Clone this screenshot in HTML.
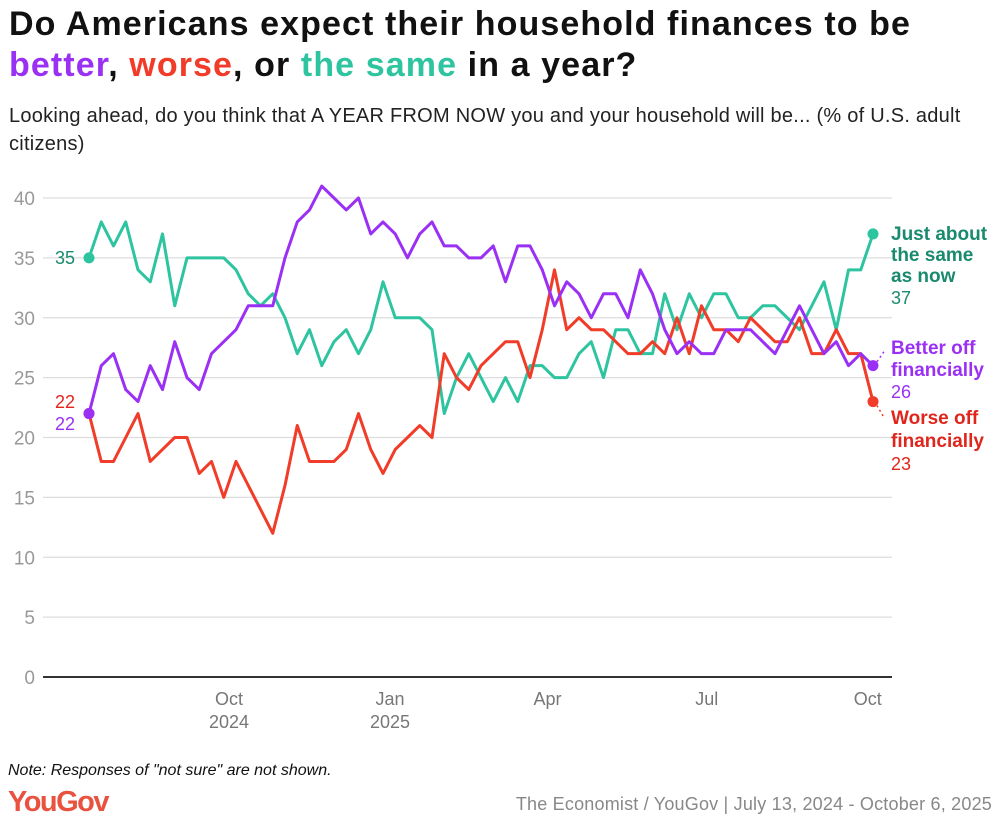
<!DOCTYPE html>
<html><head><meta charset="utf-8"><style>
body{margin:0;background:#fff;width:1000px;height:830px;overflow:hidden;font-family:"Liberation Sans",sans-serif}
.t{position:absolute;left:9px;font-weight:bold;font-size:34px;letter-spacing:1.1px;color:#111;white-space:nowrap}
.s{position:absolute;left:9px;top:102px;width:960px;font-size:20px;letter-spacing:0.25px;line-height:28px;color:#222}
</style></head><body>
<div class="t" style="top:5px">Do Americans expect their household finances to be</div>
<div class="t" style="top:46px"><span style="color:#9b30f5">better</span>, <span style="color:#f03c28">worse</span>, or <span style="color:#2ec4a0">the same</span> in a year?</div>
<div class="s">Looking ahead, do you think that A YEAR FROM NOW you and your household will be... (% of U.S. adult citizens)</div>
<svg id="c" width="1000" height="830" style="position:absolute;left:0;top:0"></svg>
<div style="position:absolute;left:8px;top:762px;font-size:16px;font-style:italic;color:#111">Note: Responses of "not sure" are not shown.</div>
<div style="position:absolute;left:8px;top:786px;font-size:29px;font-weight:bold;color:#e8523f;letter-spacing:-1.5px">YouGov</div>
<div style="position:absolute;right:8px;top:794px;font-size:18px;letter-spacing:0.2px;color:#888">The Economist / YouGov | July 13, 2024 - October 6, 2025</div>
<script>
const startDate = "2024-07-13";
const same = [35,38,36,38,34,33,37,31,35,35,35,35,34,32,31,32,30,27,29,26,28,29,27,29,33,30,30,30,29,22,25,27,25,23,25,23,26,26,25,25,27,28,25,29,29,27,27,32,29,32,30,32,32,30,30,31,31,30,29,31,33,29,34,34,37];
const better = [22,26,27,24,23,26,24,28,25,24,27,28,29,31,31,31,35,38,39,41,40,39,40,37,38,37,35,37,38,36,36,35,35,36,33,36,36,34,31,33,32,30,32,32,30,34,32,29,27,28,27,27,29,29,29,28,27,29,31,29,27,28,26,27,26];
const worse = [22,18,18,20,22,18,19,20,20,17,18,15,18,16,14,12,16,21,18,18,18,19,22,19,17,19,20,21,20,27,25,24,26,27,28,28,25,29,34,29,30,29,29,28,27,27,28,27,30,27,31,29,29,28,30,29,28,28,30,27,27,29,27,27,23];
const yTicks = [0,5,10,15,20,25,30,35,40];
const xTickDates = ["2024-10-01","2025-01-01","2025-04-01","2025-07-01","2025-10-01"];
const xTickLabels = ["Oct","Jan","Apr","Jul","Oct"];
const xTickYears = ["2024","2025","","",""];

const NS="http://www.w3.org/2000/svg", svg=document.getElementById('c');
const t0=Date.parse(startDate);
const xIdx=i=>89+i*12.25;
const xDate=d=>89+(Date.parse(d)-t0)/864e5/7*12.25;
const y=v=>677-v*11.975;
function mk(tag,a,txt){const e=document.createElementNS(NS,tag);for(const k in a)e.setAttribute(k,a[k]);if(txt!=null)e.textContent=txt;svg.appendChild(e);return e;}
yTicks.forEach(v=>{
  const g=mk('line',{x1:43,x2:892,y1:y(v),y2:y(v),stroke:v===0?'#333':'#ddd','stroke-width':v===0?2:1.2});
  
  
  const t=mk('text',{x:35,y:y(v)+7,'text-anchor':'end','font-size':19,fill:'#999','font-family':'Liberation Sans'},v);
  
  
});
xTickDates.forEach((d,i)=>{
  const t=mk('text',{x:xDate(d),y:705,'text-anchor':'middle','font-size':18,fill:'#777','font-family':'Liberation Sans'},xTickLabels[i]);
  
  
  if(xTickYears[i]){const u=mk('text',{x:xDate(d),y:728,'text-anchor':'middle','font-size':18,fill:'#777','font-family':'Liberation Sans'},xTickYears[i]);
  
  }
});
function series(arr,col,name){
  const p=mk('polyline',{points:arr.map((v,i)=>xIdx(i)+','+y(v)).join(' '),fill:'none',stroke:col,'stroke-width':3,'stroke-linejoin':'round'});
  
  
  const a=mk('circle',{cx:xIdx(0),cy:y(arr[0]),r:5.5,fill:col});
  
  
  const b=mk('circle',{cx:xIdx(arr.length-1),cy:y(arr[arr.length-1]),r:5.5,fill:col});
  
  
}
series(same,'#2ec4a0','same');
series(worse,'#f03c28','worse');
series(better,'#9b30f5','better');
const L=same.length-1;
const d1=mk('line',{x1:xIdx(L)+4,y1:y(better[L])-4,x2:884,y2:y(better[L])-14,stroke:'#9b30f5','stroke-width':1.5,'stroke-dasharray':'2,3'});


const d2=mk('line',{x1:xIdx(L)+4,y1:y(worse[L])+4,x2:884,y2:y(worse[L])+16,stroke:'#f03c28','stroke-width':1.5,'stroke-dasharray':'2,3'});


function lbl(x,yy,txt,col,bold,anchor,name){
  const t=mk('text',{x:x,y:yy,'font-size':bold?19:18,fill:col,'font-weight':bold?'bold':'normal','text-anchor':anchor||'start','font-family':'Liberation Sans'},txt);
  
  
}
lbl(75,264,same[0],'#1a8a6e',false,'end','same-start-label');
lbl(75,408,worse[0],'#e0261c',false,'end','worse-start-label');
lbl(75,430,better[0],'#9b30f5',false,'end','better-start-label');
lbl(891,240,'Just about','#1a8a6e',true,'start','same-label-1');
lbl(891,261,'the same','#1a8a6e',true,'start','same-label-2');
lbl(891,282,'as now','#1a8a6e',true,'start','same-label-3');
lbl(891,304,same[L],'#1a8a6e',false,'start','same-end-value');
lbl(891,354,'Better off','#9b30f5',true,'start','better-label-1');
lbl(891,376,'financially','#9b30f5',true,'start','better-label-2');
lbl(891,398,better[L],'#9b30f5',false,'start','better-end-value');
lbl(891,424,'Worse off','#e0261c',true,'start','worse-label-1');
lbl(891,447,'financially','#e0261c',true,'start','worse-label-2');
lbl(891,470,worse[L],'#e0261c',false,'start','worse-end-value');
</script>
</body></html>
